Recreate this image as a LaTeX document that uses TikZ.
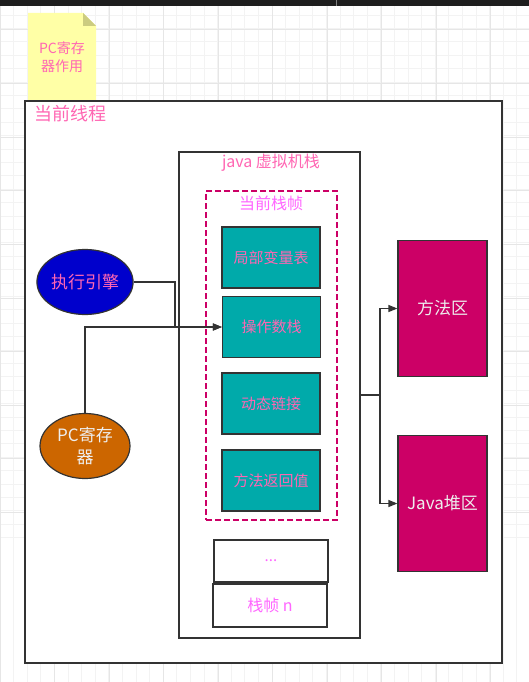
\documentclass[tikz,border=0pt]{standalone}
\usepackage{fontspec}
\setmainfont{Noto Sans CJK SC}
\usetikzlibrary{shapes.geometric,arrows.meta}

\definecolor{txtpink}{HTML}{FF66B3}
\definecolor{txtlilac}{HTML}{FF66FF}
\definecolor{txtlight}{HTML}{EEEEEE}
\definecolor{edgegray}{HTML}{333333}
\definecolor{tealfill}{HTML}{00AAAA}
\definecolor{bluefill}{HTML}{0000CC}
\definecolor{orangefill}{HTML}{CC6600}
\definecolor{magfill}{HTML}{CC0066}
\definecolor{notefill}{HTML}{FFFFA6}
\definecolor{foldfill}{HTML}{CCCC80}
\definecolor{gridminor}{HTML}{F3F3F3}
\definecolor{gridmajor}{HTML}{E6E6E6}
\definecolor{topbar}{HTML}{1E1E1E}

\newcommand{\fs}[1]{\fontsize{#1}{1.3\dimexpr#1pt\relax}\selectfont}

\begin{document}
\begin{tikzpicture}
  [ x=1pt, y=-1pt
  , box/.style={draw=edgegray, line width=1.2pt, shape=rectangle, inner sep=0pt}
  , slot/.style={box, fill=tealfill, text=txtpink, font=\fs{15}, minimum width=98pt, minimum height=61pt}
  , area/.style={box, fill=magfill, text=txtlight, font=\fs{17}, minimum width=89pt, minimum height=136pt}
  , oval/.style={draw=edgegray, line width=1.2pt, shape=ellipse, inner sep=0pt, minimum width=90pt, minimum height=65pt, align=center, font=\fs{17}}
  , title/.style={inner sep=0pt, font=\fs{16}}
  , conn/.style={draw=edgegray, line width=1.2pt, -{Triangle[length=9pt,width=7pt]}}
  ]

  \useasboundingbox (0,0) rectangle (529,682);

  % canvas grid
  \foreach \i in {0,...,39} {
    \draw[gridminor, line width=0.8pt] (\i*13.6,6) -- (\i*13.6,682);
    \draw[gridminor, line width=0.8pt] (0,15+\i*13.4) -- (529,15+\i*13.4);
  }
  \foreach \i in {0,...,9} {
    \draw[gridmajor, line width=1pt] (\i*54.5,6) -- (\i*54.5,682);
    \draw[gridmajor, line width=1pt] (0,30+\i*53.6) -- (529,30+\i*53.6);
  }
  \fill[topbar] (0,0) rectangle (529,6);
  \draw[gray, line width=1pt] (336,0) -- (336,6);

  % note
  \fill[notefill] (28,13) -- (83,13) -- (96,26) -- (96,101) -- (28,101) -- cycle;
  \fill[foldfill] (83,13) -- (96,26) -- (83,26) -- cycle;
  \node[title, text=txtpink, align=center, font=\fs{14}] (note) at (62,57) {PC寄存\\器作用};

  % thread
  \node[box, fill=white, minimum width=477pt, minimum height=562pt] (thread) at (263.5,382) {};
  \node[title, text=txtpink, anchor=west, font=\fs{18}] (threadlbl) at (34,114) {当前线程};

  % jvm stack
  \node[box, fill=white, minimum width=181pt, minimum height=486pt] (jvmstack) at (269.5,395) {};
  \node[title, text=txtpink] (jvmlbl) at (271,163) {java 虚拟机栈};

  \node[box, draw=magfill, dash pattern=on 6pt off 3pt, minimum width=131pt, minimum height=329pt] (curframe) at (271.5,355.5) {};
  \node[title, text=txtlilac] (curlbl) at (271,203) {当前栈帧};

  \node[slot] (localvar) at (271,257.5)   {局部变量表};
  \node[slot] (opstack)  at (271.5,327)   {操作数栈};
  \node[slot] (dynlink)  at (271,403.5)   {动态链接};
  \node[slot] (retval)   at (271,480.5)   {方法返回值};

  \node[box, fill=white, text=txtlilac, font=\fs{15}, minimum width=114pt, minimum height=42pt] (dots)   at (271,561)   {...};
  \node[box, fill=white, text=txtlilac, font=\fs{16}, minimum width=114pt, minimum height=43pt] (framen) at (270,605.5) {栈帧 n};

  % engine and pc register
  \node[oval, fill=bluefill, text=txtpink]   (engine) at (85,282) {执行引擎};
  \node[oval, fill=orangefill, text=txtlight] (pcreg)  at (85,446) {PC寄存\\器};

  % shared areas
  \node[area] (methodarea) at (442.5,308.5) {方法区};
  \node[area] (heap)       at (442.5,503.5) {Java堆区};

  \draw[conn] (engine.east) -- (175,282) |- (opstack.west);
  \draw[conn] (pcreg.north) |- (opstack.west);

  \draw[conn] (jvmstack.east) -- (380,395) |- (methodarea.west);
  \draw[conn] (jvmstack.east) -- (380,395) |- (heap.west);

\end{tikzpicture}
\end{document}
